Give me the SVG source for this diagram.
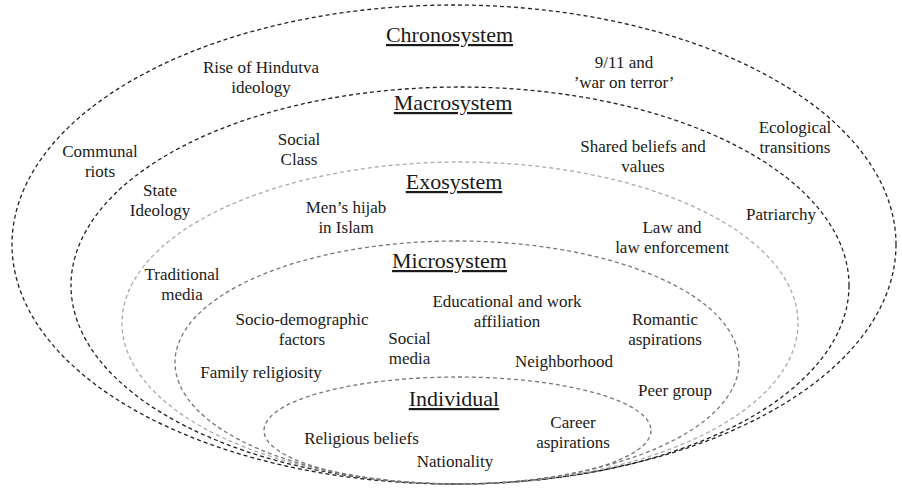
<svg xmlns="http://www.w3.org/2000/svg" width="902" height="491" viewBox="0 0 902 491">
<style>
  .ring { fill: none; stroke-width: 1.3; stroke-dasharray: 4 3; }
  .dark { stroke: #222; }
  .mid { stroke: #777; }
  .light { stroke: #aaa; }
  text { fill: #1a1a1a; text-anchor: middle; }
  .t { font-size: 17px; }
  .h { font-size: 22px; text-decoration: underline; }
</style>
<rect width="902" height="491" fill="#fff"/>
<g id="connectors"></g>
<g font-family="Liberation Serif, DejaVu Serif, serif">
<g id="chronosystem">
  <ellipse class="ring dark" cx="454" cy="244.5" rx="442" ry="239.5"/>
  <text class="h" x="449.5" y="42">Chronosystem</text>
  <text class="t" x="261" y="73">Rise of Hindutva</text>
  <text class="t" x="261" y="93">ideology</text>
  <text class="t" x="624" y="68">9/11 and</text>
  <text class="t" x="624" y="88">’war on terror’</text>
  <text class="t" x="100" y="157">Communal</text>
  <text class="t" x="100" y="177">riots</text>
  <text class="t" x="795" y="133">Ecological</text>
  <text class="t" x="795" y="153">transitions</text>
</g>
<g id="macrosystem">
  <ellipse class="ring dark" cx="460" cy="285.5" rx="389" ry="198.5"/>
  <text class="h" x="453" y="110">Macrosystem</text>
  <text class="t" x="299" y="145">Social</text>
  <text class="t" x="299" y="165">Class</text>
  <text class="t" x="643" y="152">Shared beliefs and</text>
  <text class="t" x="643" y="172">values</text>
  <text class="t" x="160" y="196">State</text>
  <text class="t" x="160" y="216">Ideology</text>
  <text class="t" x="781" y="220">Patriarchy</text>
</g>
<g id="exosystem">
  <ellipse class="ring light" cx="460" cy="323" rx="338" ry="161"/>
  <text class="h" x="454" y="189">Exosystem</text>
  <text class="t" x="346" y="213">Men’s hijab</text>
  <text class="t" x="346" y="233">in Islam</text>
  <text class="t" x="672" y="233">Law and</text>
  <text class="t" x="672" y="253">law enforcement</text>
  <text class="t" x="182" y="280">Traditional</text>
  <text class="t" x="182" y="300">media</text>
</g>
<g id="microsystem">
  <ellipse class="ring mid" cx="457" cy="362.5" rx="282" ry="121.5"/>
  <text class="h" x="449.5" y="268">Microsystem</text>
  <text class="t" x="507" y="307">Educational and work</text>
  <text class="t" x="507" y="327">affiliation</text>
  <text class="t" x="302" y="325">Socio-demographic</text>
  <text class="t" x="302" y="345">factors</text>
  <text class="t" x="665" y="325">Romantic</text>
  <text class="t" x="665" y="345">aspirations</text>
  <text class="t" x="409.5" y="344">Social</text>
  <text class="t" x="409.5" y="364">media</text>
  <text class="t" x="564" y="367">Neighborhood</text>
  <text class="t" x="261" y="378">Family religiosity</text>
  <text class="t" x="675" y="396">Peer group</text>
</g>
<g id="individual">
  <ellipse class="ring mid" cx="457.5" cy="430.5" rx="193.5" ry="53.5"/>
  <text class="h" x="454" y="406">Individual</text>
  <text class="t" x="573" y="428">Career</text>
  <text class="t" x="573" y="448">aspirations</text>
  <text class="t" x="361.5" y="444">Religious beliefs</text>
  <text class="t" x="455" y="467">Nationality</text>
</g>
</g>
</svg>
